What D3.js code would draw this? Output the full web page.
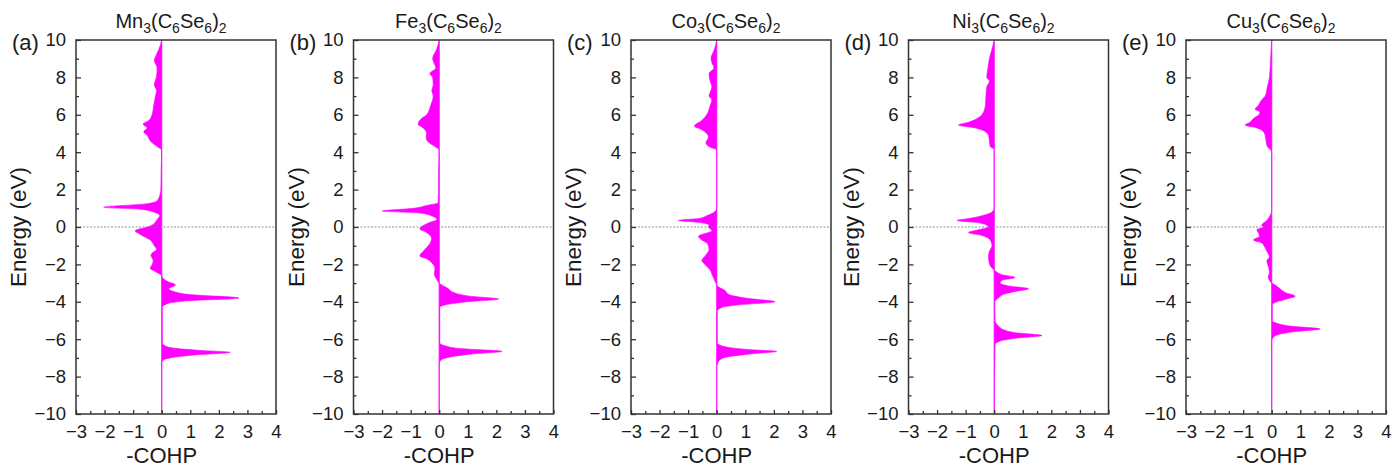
<!DOCTYPE html>
<html>
<head>
<meta charset="utf-8">
<script src="https://cdn.jsdelivr.net/npm/d3@7"></script>
<style>
	body { margin: 0; background: #fff; }
	svg text { font-family: Arial, "Liberation Sans", sans-serif; fill: #1a1a1a; }
</style>
</head>
<body>
<svg id="chart" width="1394" height="470"></svg>
<script>

// panel titles, split into [text, isSubscript] runs
const titles = [
	[['Mn', 0], ['3', 1], ['(C', 0], ['6', 1], ['Se', 0], ['6', 1], [')', 0], ['2', 1]],
	[['Fe', 0], ['3', 1], ['(C', 0], ['6', 1], ['Se', 0], ['6', 1], [')', 0], ['2', 1]],
	[['Co', 0], ['3', 1], ['(C', 0], ['6', 1], ['Se', 0], ['6', 1], [')', 0], ['2', 1]],
	[['Ni', 0], ['3', 1], ['(C', 0], ['6', 1], ['Se', 0], ['6', 1], [')', 0], ['2', 1]],
	[['Cu', 0], ['3', 1], ['(C', 0], ['6', 1], ['Se', 0], ['6', 1], [')', 0], ['2', 1]]
];
const panelLabels = ['(a)', '(b)', '(c)', '(d)', '(e)'];

// axis ticks
const xTicks = [-3, -2, -1, 0, 1, 2, 3, 4];
const yTicks = [-10, -8, -6, -4, -2, 0, 2, 4, 6, 8, 10];

// [energy (eV), -COHP], top to bottom
const mnCohp = [[10,0],[9.5,-0.1],[9.2,-0.19],[8.9,-0.26],[8.5,-0.16],[8.0,-0.19],[7.6,-0.26],[7.3,-0.18],[7.0,-0.22],[6.5,-0.28],[6.0,-0.34],[5.7,-0.45],[5.5,-0.65],[5.3,-0.51],[5.1,-0.63],[4.9,-0.51],[4.6,-0.4],[4.3,-0.16],[4.1,0],[3.0,-0.02],[2.0,-0.03],[1.8,-0.05],[1.4,-0.16],[1.25,-0.5],[1.05,-2.03],[0.95,-0.75],[0.8,-0.28],[0.6,-0.07],[0.4,-0.16],[0.1,-0.34],[0.0,-0.5],[-0.2,-0.93],[-0.4,-0.75],[-0.7,-0.4],[-1.0,-0.26],[-1.2,-0.18],[-1.4,-0.34],[-1.5,-0.38],[-1.8,-0.3],[-2.0,-0.33],[-2.2,-0.4],[-2.4,-0.2],[-2.6,0],[-2.7,0.02],[-2.9,0.19],[-3.1,0.48],[-3.3,0.25],[-3.45,0.42],[-3.6,0.9],[-3.8,2.7],[-3.95,0.9],[-4.1,0.19],[-4.3,0.02],[-5.0,0.02],[-6.2,0.02],[-6.3,0.07],[-6.45,0.3],[-6.6,1.35],[-6.7,2.4],[-6.85,1.1],[-7.0,0.3],[-7.1,0.07],[-7.3,0],[-10,0]];
const feCohp = [[10,0],[9.5,-0.09],[9.0,-0.23],[8.8,-0.19],[8.5,-0.12],[8.2,-0.33],[8.0,-0.23],[7.6,-0.21],[7.3,-0.26],[7.0,-0.21],[6.5,-0.3],[6.0,-0.44],[5.8,-0.62],[5.5,-0.74],[5.3,-0.56],[5.0,-0.44],[4.8,-0.46],[4.5,-0.35],[4.3,-0.15],[4.1,0],[3.0,-0.02],[2.0,-0.02],[1.3,-0.04],[1.15,-0.44],[1.0,-0.9],[0.85,-2.0],[0.75,-0.68],[0.6,-0.27],[0.4,-0.09],[0.2,-0.4],[-0.1,-0.68],[-0.3,-0.44],[-0.6,-0.27],[-0.9,-0.33],[-1.1,-0.44],[-1.3,-0.56],[-1.55,-0.68],[-1.7,-0.44],[-1.9,-0.27],[-2.2,-0.15],[-2.5,-0.17],[-2.8,-0.09],[-3.0,0],[-3.1,0.09],[-3.3,0.32],[-3.5,0.5],[-3.7,1.08],[-3.85,2.08],[-4.0,0.96],[-4.15,0.26],[-4.3,0.02],[-6.2,0.02],[-6.35,0.2],[-6.5,0.72],[-6.65,2.2],[-6.8,1.08],[-6.95,0.38],[-7.1,0.08],[-7.3,0],[-10,0]];
const coCohp = [[10,0],[9.5,-0.08],[9.0,-0.2],[8.8,-0.17],[8.5,-0.1],[8.2,-0.27],[7.8,-0.23],[7.5,-0.17],[7.2,-0.23],[7.0,-0.27],[6.8,-0.17],[6.5,-0.23],[6.0,-0.35],[5.7,-0.52],[5.4,-0.78],[5.2,-0.52],[5.0,-0.35],[4.8,-0.29],[4.5,-0.38],[4.3,-0.27],[4.1,0],[1.0,0],[0.8,-0.08],[0.6,-0.35],[0.45,-0.64],[0.35,-1.34],[0.25,-0.64],[0.1,-0.27],[0.0,-0.29],[-0.2,-0.17],[-0.5,-0.64],[-0.7,-0.52],[-0.9,-0.32],[-1.2,-0.27],[-1.5,-0.38],[-1.8,-0.52],[-2.0,-0.41],[-2.3,-0.23],[-2.6,-0.15],[-2.9,-0.06],[-3.1,0],[-3.2,0.06],[-3.4,0.29],[-3.6,0.41],[-3.8,1.0],[-4.0,2.04],[-4.15,0.87],[-4.3,0.18],[-4.5,0.02],[-6.2,0.02],[-6.4,0.29],[-6.55,1.1],[-6.65,2.1],[-6.8,1.1],[-7.0,0.23],[-7.2,0.06],[-7.5,0],[-10,0]];
const niCohp = [[10,0],[9.5,-0.08],[9.0,-0.17],[8.5,-0.22],[8.0,-0.26],[7.8,-0.17],[7.5,-0.26],[7.0,-0.29],[6.5,-0.31],[6.0,-0.43],[5.8,-0.6],[5.6,-0.9],[5.45,-1.25],[5.3,-0.67],[5.1,-0.31],[4.9,-0.2],[4.6,-0.17],[4.3,-0.14],[4.15,0],[1.0,0],[0.8,-0.08],[0.6,-0.43],[0.45,-0.9],[0.35,-1.3],[0.25,-0.67],[0.1,-0.26],[0.0,-0.2],[-0.15,-0.55],[-0.3,-0.9],[-0.45,-0.43],[-0.7,-0.14],[-1.0,-0.08],[-1.3,-0.17],[-1.6,-0.2],[-2.0,-0.16],[-2.3,0],[-2.4,0.09],[-2.55,0.27],[-2.7,0.73],[-2.85,0.27],[-3.0,0.21],[-3.15,0.5],[-3.3,1.2],[-3.45,0.73],[-3.6,0.33],[-3.8,0.15],[-4.0,0.02],[-5.0,0.03],[-5.3,0.15],[-5.5,0.33],[-5.65,0.73],[-5.8,1.67],[-5.95,0.73],[-6.1,0.21],[-6.3,0.03],[-10,0]];
const cuCohp = [[10,0],[9.0,-0.04],[8.0,-0.08],[7.5,-0.15],[7.0,-0.23],[6.8,-0.35],[6.5,-0.47],[6.3,-0.58],[6.15,-0.41],[6.0,-0.45],[5.8,-0.64],[5.6,-0.76],[5.45,-0.93],[5.3,-0.52],[5.1,-0.29],[4.9,-0.23],[4.6,-0.2],[4.3,-0.15],[4.0,0],[0.9,0],[0.6,-0.06],[0.35,-0.17],[0.1,-0.35],[0.0,-0.29],[-0.15,-0.52],[-0.3,-0.47],[-0.5,-0.43],[-0.7,-0.64],[-0.85,-0.35],[-1.0,-0.27],[-1.3,-0.17],[-1.6,-0.08],[-1.8,-0.17],[-2.1,-0.12],[-2.4,-0.08],[-2.7,-0.12],[-2.9,-0.06],[-3.0,0],[-3.1,0.12],[-3.3,0.29],[-3.5,0.47],[-3.7,0.82],[-3.85,0.52],[-4.0,0.18],[-4.15,0.02],[-5.0,0.02],[-5.15,0.18],[-5.3,0.64],[-5.45,1.69],[-5.6,0.76],[-5.75,0.23],[-5.9,0.06],[-6.1,0],[-10,0]];

const datasets = [mnCohp, feCohp, coCohp, niCohp, cuCohp];

const settings = {
	firstLeft: 76,
	panelStep: 277.5,
	top: 40,
	width: 200,
	height: 374,
	fill: '#ff00ff',
	axisColor: '#333'
};

const svg = d3.select('#chart');

/**
* draw one COHP panel
* @param {array} data [energy, cohp] pairs
* @param {number} idx panel index
*/
function drawPanel(data, idx) {
	let left = settings.firstLeft + idx * settings.panelStep,
		w = settings.width,
		h = settings.height;

	let g = svg.append('g')
		.attr('transform', 'translate(' + left + ',' + settings.top + ')');

	let x = d3.scaleLinear().domain([-3, 4]).range([0, w]),
		y = d3.scaleLinear().domain([-10, 10]).range([h, 0]);

	// filled -COHP curve
	let area = d3.area()
		.curve(d3.curveMonotoneY)
		.y(d => y(d[0]))
		.x0(x(0))
		.x1(d => x(d[1]));

	g.append('path')
		.datum(data)
		.attr('d', area)
		.attr('fill', settings.fill)
		.attr('stroke', settings.fill)
		.attr('stroke-width', 0.6);

	g.append('line')
		.attr('x1', x(0)).attr('x2', x(0))
		.attr('y1', 0).attr('y2', h)
		.attr('stroke', settings.fill)
		.attr('stroke-opacity', 0.6)
		.attr('stroke-width', 1);

	// Fermi level
	g.append('line')
		.attr('x1', 0).attr('x2', w)
		.attr('y1', y(0)).attr('y2', y(0))
		.attr('stroke', '#777')
		.attr('stroke-width', 0.8)
		.attr('stroke-dasharray', '2,1.5');

	// axes, ticks pointing inward
	let yAxis = d3.axisLeft(y).tickValues(yTicks).tickSize(-5).tickPadding(10).tickFormat(d3.format('d')),
		yMinor = d3.axisLeft(y).tickValues(d3.range(-9, 10, 2)).tickSize(-3).tickFormat(''),
		xAxis = d3.axisBottom(x).tickValues(xTicks).tickSize(-4).tickPadding(11).tickFormat(d3.format('d')),
		xMinor = d3.axisBottom(x).tickValues(d3.range(-2.5, 4, 1)).tickSize(-3).tickFormat('');

	[yAxis, yMinor].forEach(ax => {
		g.append('g').attr('class', 'axis').call(ax);
	});
	[xAxis, xMinor].forEach(ax => {
		g.append('g').attr('class', 'axis').attr('transform', 'translate(0,' + h + ')').call(ax);
	});

	g.selectAll('.axis .domain').remove();
	g.selectAll('.axis line').attr('stroke', settings.axisColor).attr('stroke-width', 1.3);
	g.selectAll('.axis text').attr('font-size', 18.5).attr('fill', '#1a1a1a');

	// frame
	g.append('rect')
		.attr('width', w).attr('height', h)
		.attr('fill', 'none')
		.attr('stroke', settings.axisColor)
		.attr('stroke-width', 1.5);

	// title with subscripts
	let title = g.append('text')
		.attr('x', w / 2 - 5)
		.attr('y', -12)
		.attr('text-anchor', 'middle')
		.attr('font-size', 20);
	let shift = 0;
	titles[idx].forEach(run => {
		let target = run[1] ? 5 : 0;
		title.append('tspan')
			.attr('font-size', run[1] ? 14 : 20)
			.attr('dy', target - shift)
			.text(run[0]);
		shift = target;
	});

	// panel letter
	g.append('text')
		.attr('x', -64)
		.attr('y', 10)
		.attr('font-size', 22)
		.text(panelLabels[idx]);

	// axis titles
	g.append('text')
		.attr('transform', 'translate(-50,' + (h / 2) + ') rotate(-90)')
		.attr('text-anchor', 'middle')
		.attr('font-size', 22.5)
		.text('Energy (eV)');

	g.append('text')
		.attr('x', x(0))
		.attr('y', h + 49)
		.attr('text-anchor', 'middle')
		.attr('font-size', 22)
		.text('-COHP');
}

datasets.forEach(drawPanel);

</script>
</body>
</html>
